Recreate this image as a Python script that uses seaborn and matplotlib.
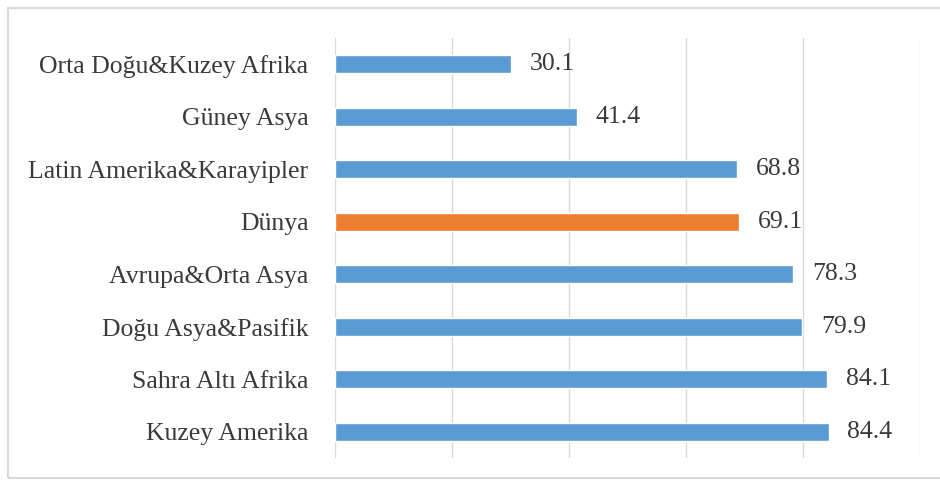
import matplotlib
matplotlib.use("Agg")
import matplotlib.pyplot as plt
import seaborn as sns
import pandas as pd
from matplotlib.patches import Rectangle

categories = ["Orta Doğu&Kuzey Afrika", "Güney Asya", "Latin Amerika&Karayipler", "Dünya",
              "Avrupa&Orta Asya", "Doğu Asya&Pasifik", "Sahra Altı Afrika", "Kuzey Amerika"]
values = [30.1, 41.4, 68.8, 69.1, 78.3, 79.9, 84.1, 84.4]
groups = ["bolge", "bolge", "bolge", "dunya", "bolge", "bolge", "bolge", "bolge"]

df = pd.DataFrame({"cat": categories, "val": values, "grp": groups})

sns.set_theme(style="white")
plt.rcParams['font.family'] = ['Liberation Serif', 'DejaVu Serif']

fig = plt.figure(figsize=(9.4, 4.82), dpi=100)
ax = fig.add_axes([335/940, 1-458/482, (920-335)/940, (458-38)/482])

sns.barplot(data=df, y="cat", x="val", hue="grp", orient="h", ax=ax,
            palette={"bolge": "#5B9BD5", "dunya": "#ED7D31"}, width=0.35,
            legend=False, dodge=False, saturation=1)

ax.set_xlim(0, 100)
ax.set_ylim(7.5, -0.5)
ax.set_xticks([0, 20, 40, 60, 80, 100])
ax.set_xticklabels([])
ax.xaxis.grid(True, color="#d9d9d9", linewidth=1)
ax.set_axisbelow(True)
for s in ax.spines.values():
    s.set_visible(False)
ax.set_xlabel("")
ax.set_ylabel("")
ax.tick_params(axis="y", length=0, pad=19, labelsize=18.5, labelcolor="#3a3a3a")
ax.tick_params(axis="x", length=0)

for i, v in enumerate(values):
    ax.text(v + 3.2, i, f"{v:.1f}", va="center", ha="left", fontsize=18.5, color="#3a3a3a")

fig.patches.append(Rectangle((8/940, 4/482), 960/940, 470/482, transform=fig.transFigure,
                             fill=False, edgecolor="#d9d9d9", linewidth=1.5))

fig.savefig("out.png", dpi=100)
